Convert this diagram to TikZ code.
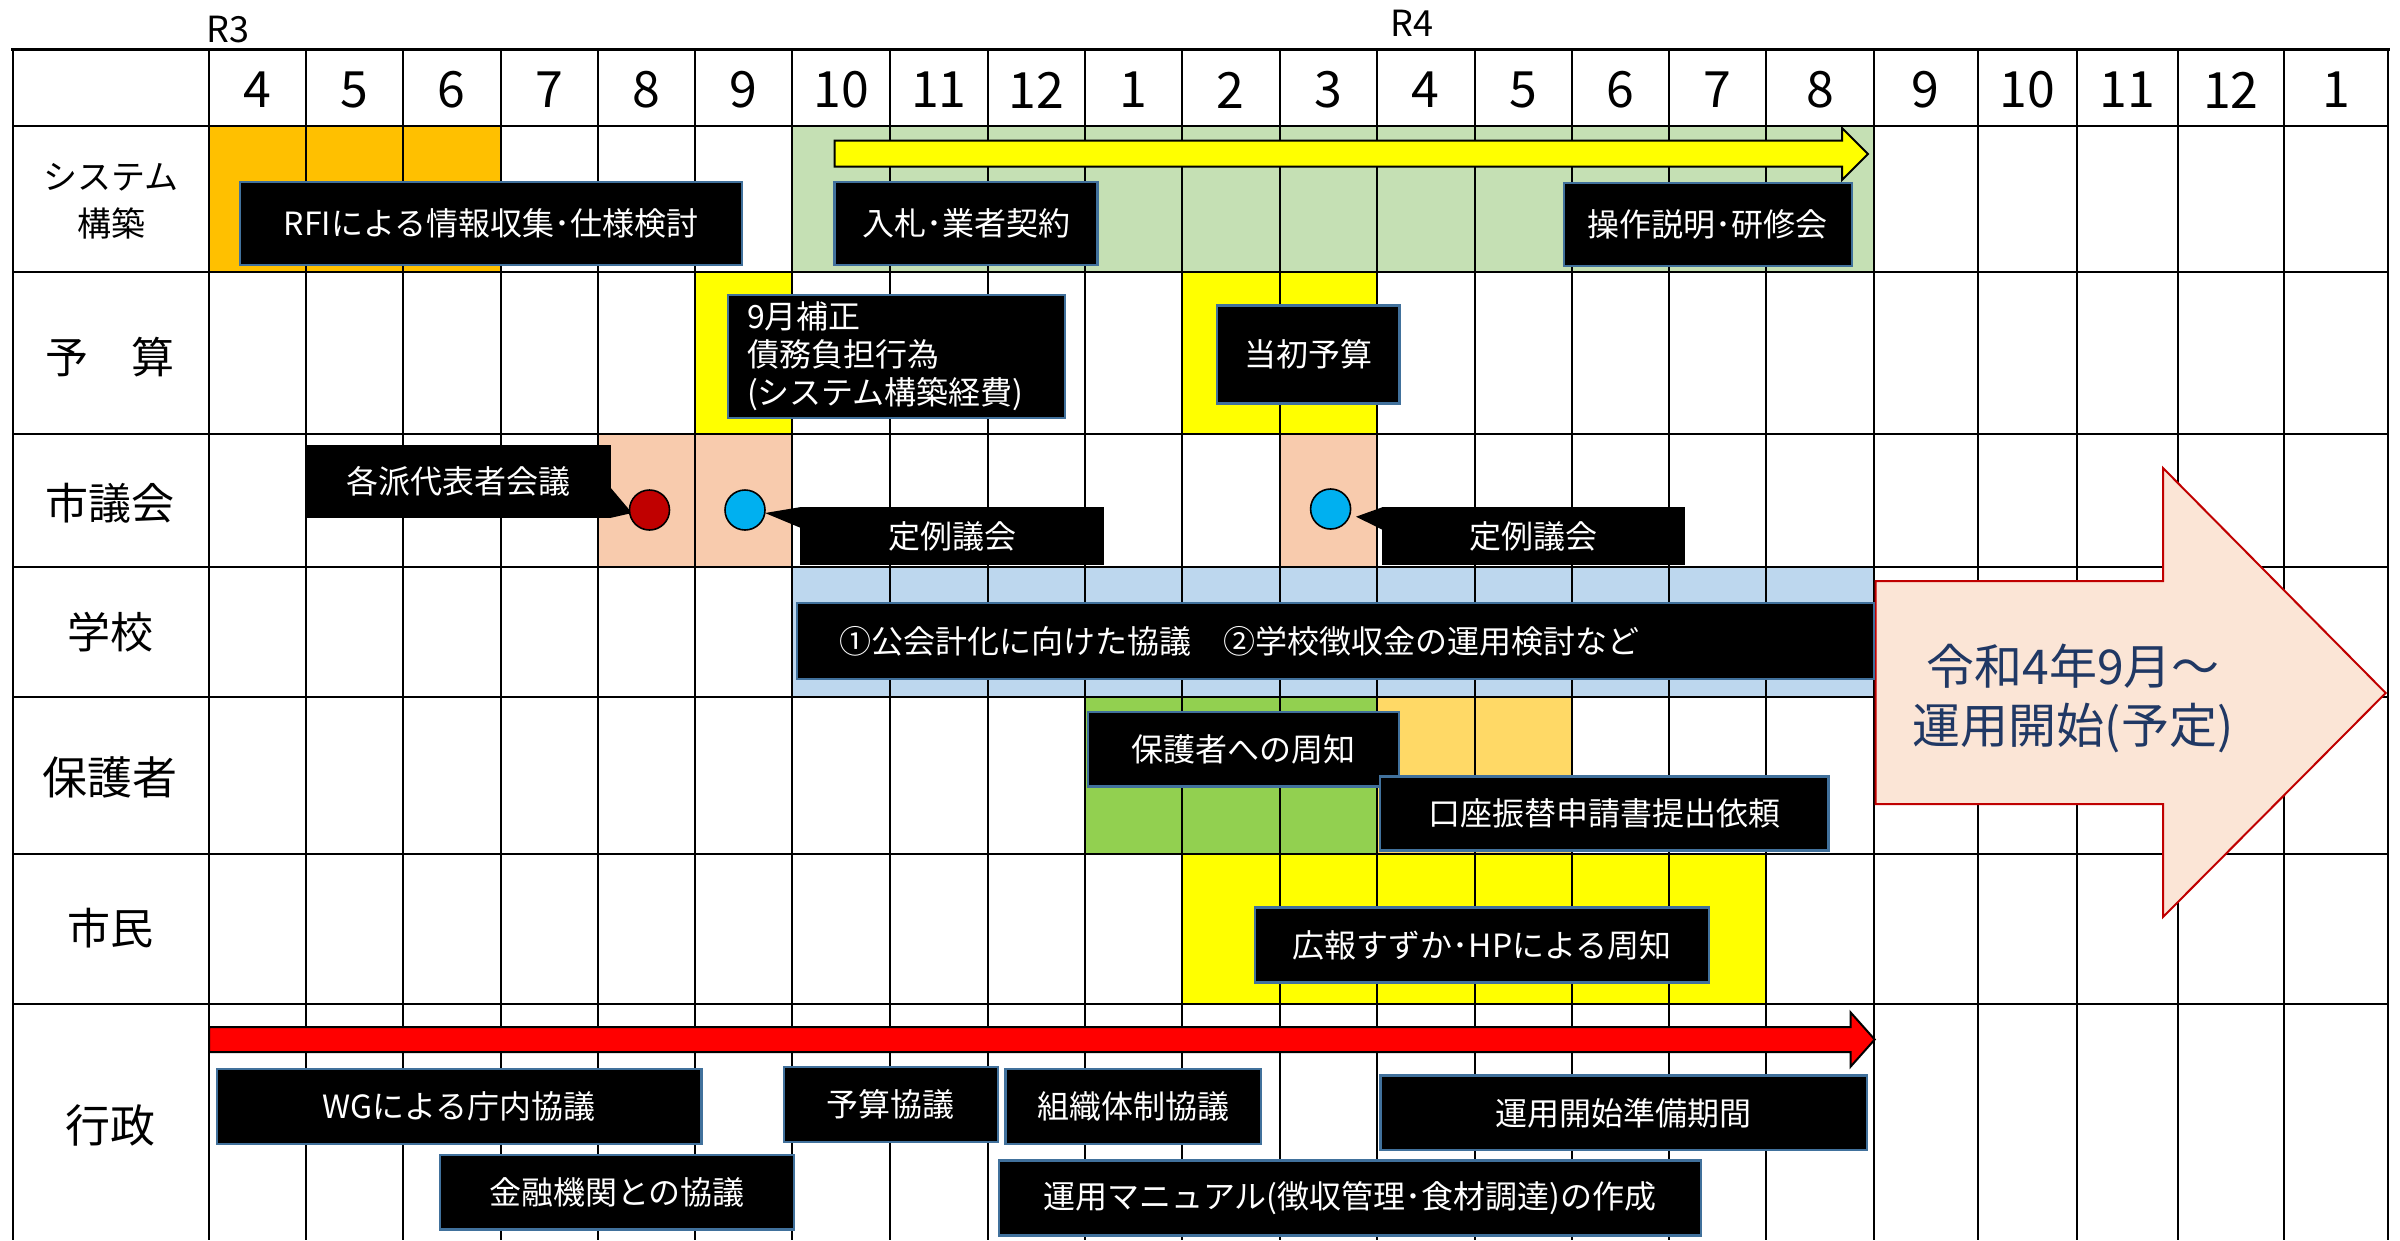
\documentclass[tikz,border=0pt]{standalone}
\usepackage{fontspec}
\setmainfont{Noto Sans CJK JP}
\definecolor{cOrange}{HTML}{FFC000}
\definecolor{cLGreen}{HTML}{C5E0B4}
\definecolor{cYellow}{HTML}{FFFF00}
\definecolor{cPeach}{HTML}{F8CBAD}
\definecolor{cLBlue}{HTML}{BDD7EE}
\definecolor{cGreen}{HTML}{92D050}
\definecolor{cLOrange}{HTML}{FFD966}
\definecolor{cRedDot}{HTML}{C00000}
\definecolor{cBlueDot}{HTML}{00B0F0}
\definecolor{cBoxEdge}{HTML}{41719C}
\definecolor{cBigFill}{HTML}{FBE5D6}
\definecolor{cNavy}{HTML}{203864}
\newcommand\mkbox[7][]{\node[blackbox,minimum width={#5-#3},minimum height={#6-#4},#1] (#2) at ({(#3+#5)/2},{(#4+#6)/2}) {#7};}
\begin{document}
\begin{tikzpicture}[x=1pt,y=-1pt,
  blackbox/.style={fill=black,draw=cBoxEdge,line width=2.5pt,text=white,font=\fontsize{32}{38}\selectfont,inner sep=0pt},
  callbox/.style={fill=black,text=white,font=\fontsize{32}{38}\selectfont,inner sep=0pt},
  rowlabel/.style={font=\fontsize{43}{48}\selectfont,align=center,inner sep=0pt},
  month/.style={font=\fontsize{50}{54}\selectfont,inner sep=0pt},
  vline/.style={line width=2pt},
  hline/.style={line width=2.6pt},
  dot/.style={circle,draw=black,line width=1.6pt,minimum size=40pt,inner sep=0pt}
]
\useasboundingbox (0,0) rectangle (2400,1240);
\fill[white] (0,0) rectangle (2400,1240);
% cell fills
\fill[cOrange] (208.7,126) rectangle (500.5,272);
\fill[cLGreen] (792.3,126) rectangle (1873.5,272);
\fill[cYellow] (695.4,272) rectangle (792.3,434);
\fill[cYellow] (1182,272) rectangle (1377,434);
\fill[cPeach] (598,434) rectangle (792.3,567);
\fill[cPeach] (1279.6,434) rectangle (1377,567);
\fill[cLBlue] (792.3,567) rectangle (1873.5,697);
\fill[cGreen] (1085.2,697) rectangle (1377,854);
\fill[cLOrange] (1377,697) rectangle (1572,854);
\fill[cYellow] (1182,854) rectangle (1766.3,1004);
% grid
\foreach \x in {12.8,208.7,306,403,500.5,598,695.4,792.3,889.8,987.8,1085.2,1182,1279.6,1377,1474.5,1572,1669,1766.3,1873.5,1978,2077,2177.6,2284,2388}
  \draw[vline] (\x,49.5) -- (\x,1240);
\foreach \y in {126,272,434,567,697,854,1004}
  \draw[hline] (12.8,\y) -- (2388,\y);
\draw[line width=3.5pt] (11,49.5) -- (2389.5,49.5);
% header
\node[font=\fontsize{36}{40}\selectfont,anchor=west,inner sep=0pt] (r3) at (206,30) {R3};
\node[font=\fontsize{36}{40}\selectfont,inner sep=0pt] (r4) at (1412,23) {R4};
\foreach \a/\b/\m [count=\i] in {208.7/306/4,306/403/5,403/500.5/6,500.5/598/7,598/695.4/8,695.4/792.3/9,792.3/889.8/10,889.8/987.8/11,987.8/1085.2/12,1085.2/1182/1,1182/1279.6/2,1279.6/1377/3,1377/1474.5/4,1474.5/1572/5,1572/1669/6,1669/1766.3/7,1766.3/1873.5/8,1873.5/1978/9,1978/2077/10,2077/2177.6/11,2177.6/2284/12,2284/2388/1}
  \node[month] (m\i) at ({(\a+\b)/2},90) {\m};
% row labels
\node[rowlabel,font=\fontsize{34}{47}\selectfont] (lsys) at (111,201) {システム\\構築};
\node[rowlabel] (lyosan) at (110,357) {予　算};
\node[rowlabel] (lgikai) at (110,503) {市議会};
\node[rowlabel] (lgakko) at (110,632) {学校};
\node[rowlabel,font=\fontsize{45}{50}\selectfont] (lhogo) at (110,777) {保護者};
\node[rowlabel] (lshimin) at (110,928) {市民};
\node[rowlabel,font=\fontsize{45}{50}\selectfont] (lgyosei) at (110,1125) {行政};
% arrows
\filldraw[fill=cYellow,draw=black,line width=2pt,line join=miter]
  (834.7,140.7) -- (1842,140.7) -- (1842,128) -- (1868,154) -- (1842,180) -- (1842,166.7) -- (834.7,166.7) -- cycle;
\filldraw[fill=red,draw=black,line width=2pt,line join=miter]
  (209,1027) -- (1850.5,1027) -- (1850.5,1012.3) -- (1874.7,1039.5) -- (1850.5,1066.7) -- (1850.5,1052) -- (209,1052) -- cycle;
\filldraw[fill=cBigFill,draw=cRedDot,line width=2pt,line join=miter]
  (1875.5,581) -- (2163,581) -- (2163,468) -- (2385.7,693) -- (2163,917) -- (2163,804) -- (1875.5,804) -- cycle;
\node[font=\fontsize{48}{59}\selectfont,text=cNavy,align=center,inner sep=0pt] (start) at (2073,698) {令和4年9月～\\運用開始(予定)};
% black boxes
\mkbox{rfi}{240}{182}{742}{265}{RFIによる情報収集･仕様検討}
\mkbox{nyusatsu}{834.7}{182}{1097.4}{265}{入札･業者契約}
\mkbox{sousa}{1563.8}{183}{1852}{266}{操作説明･研修会}
\mkbox[align=left,text width=299pt,inner xsep=19pt]{hosei}{728}{295}{1065}{418}{9月補正\\債務負担行為\\(システム構築経費)}
\mkbox{tousho}{1216.8}{305.7}{1399.5}{403.3}{当初予算}
\mkbox[align=left,text width=993pt,inner xsep=42pt]{gakko}{797}{603}{1874}{679}{①公会計化に向けた協議　②学校徴収金の運用検討など}
\mkbox{hogosha}{1087.8}{712}{1399}{786.7}{保護者への周知}
\mkbox{kouza}{1380}{776.7}{1828.6}{850.7}{口座振替申請書提出依頼}
\mkbox{kouhou}{1255}{907.7}{1709}{982.7}{広報すずか･HPによる周知}
\mkbox{wg}{216.8}{1069}{701.5}{1144}{WGによる庁内協議}
\mkbox{kinyu}{440}{1155}{794}{1229.3}{金融機関との協議}
\mkbox{yosankyogi}{784}{1067}{997.8}{1142}{予算協議}
\mkbox{soshiki}{1005.5}{1069}{1261}{1144}{組織体制協議}
\mkbox{junbi}{1380.5}{1075.7}{1867}{1150}{運用開始準備期間}
\mkbox{manual}{999}{1160.7}{1701}{1235.7}{運用マニュアル(徴収管理･食材調達)の作成}
% callouts
\node[callbox,minimum width=305,minimum height=73] (kakuha) at (458.5,481.5) {各派代表者会議};
\fill (610,487) -- (632,513) -- (610,518) -- cycle;
\node[callbox,minimum width=304,minimum height=58] (teirei1) at (952,536) {定例議会};
\fill (801,507) -- (765,513) -- (801,528) -- cycle;
\node[callbox,minimum width=303.4,minimum height=58] (teirei2) at (1533.3,536) {定例議会};
\fill (1383,507) -- (1356,516.7) -- (1383,530) -- cycle;
% dots
\node[dot,fill=cRedDot] (dred) at (649.5,510) {};
\node[dot,fill=cBlueDot] (dblue1) at (745,510) {};
\node[dot,fill=cBlueDot] (dblue2) at (1330.6,509) {};
\end{tikzpicture}
\end{document}
